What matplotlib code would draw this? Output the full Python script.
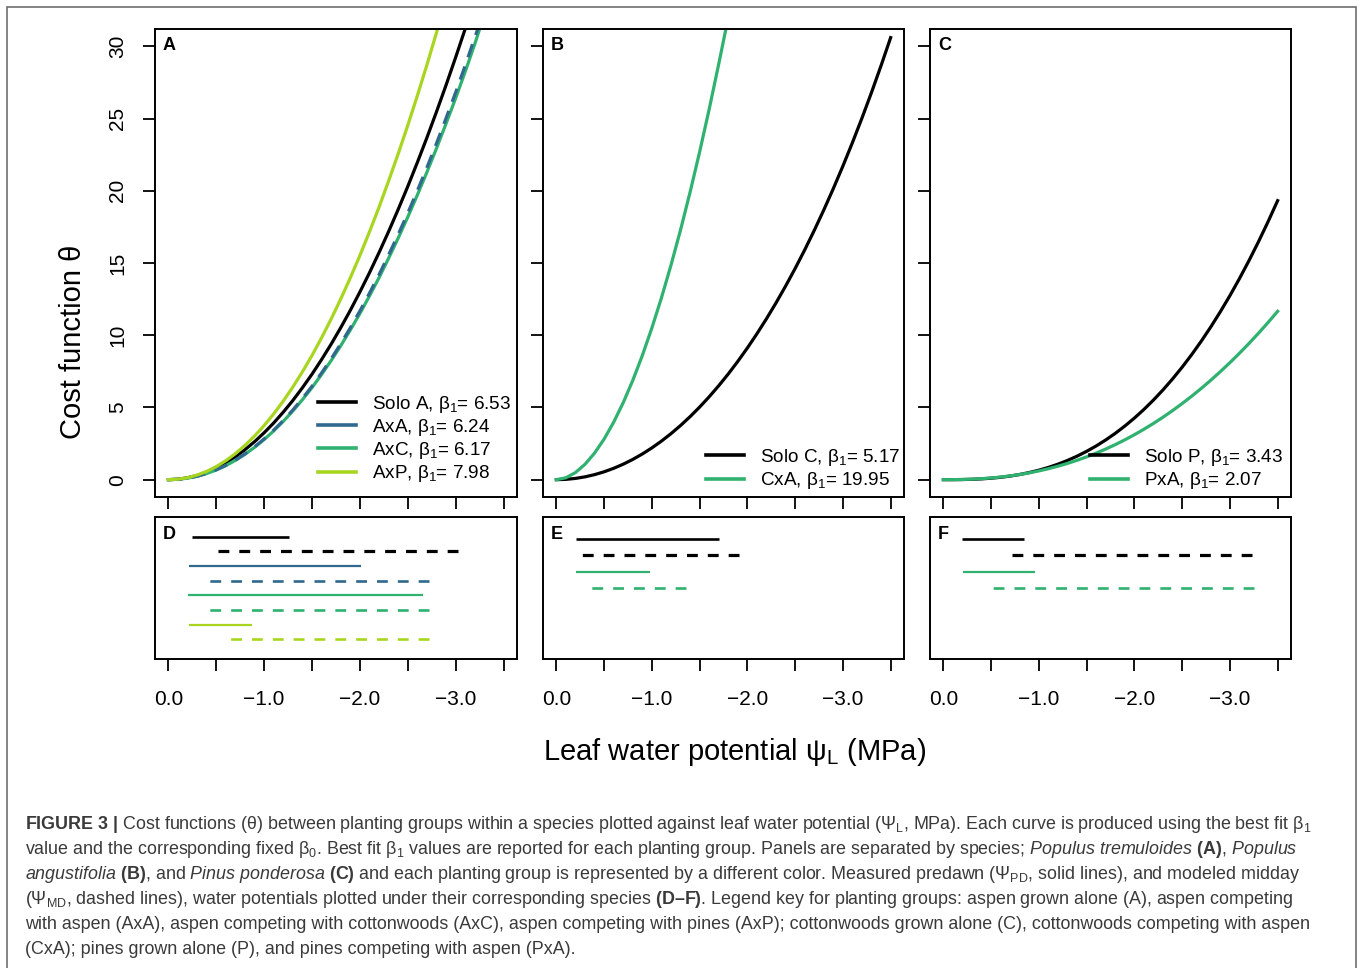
import matplotlib
matplotlib.use("Agg")
import matplotlib.pyplot as plt
from matplotlib.lines import Line2D
from matplotlib.patches import Rectangle

plt.rcParams['font.family'] = ['Liberation Sans', 'DejaVu Sans']
plt.rcParams['mathtext.fontset'] = 'custom'
plt.rcParams['mathtext.rm'] = 'Liberation Sans'
plt.rcParams['mathtext.it'] = 'Liberation Sans:italic'
plt.rcParams['mathtext.bf'] = 'Liberation Sans:bold'
plt.rcParams['lines.scale_dashes'] = False

# ---- cost curves, every 0.1 MPa from 0 down to -3.5
PSI = [round(-0.1 * i, 1) for i in range(36)]

# panel A (aspen); curves that leave the top of the panel end at their exit point
SOLO_A = [0, 0.03, 0.13, 0.29, 0.52, 0.81, 1.17, 1.59, 2.08, 2.63, 3.25, 3.93, 4.68, 5.49,
          6.37, 7.31, 8.32, 9.39, 10.53, 11.73, 13.0, 14.33, 15.73, 17.19, 18.72, 20.31,
          21.97, 23.69, 25.48, 27.33, 29.25, 31.23]
AXA = [0, 0.025, 0.105, 0.24, 0.431, 0.681, 0.991, 1.358, 1.786, 2.274, 2.822, 3.432, 4.1,
       4.83, 5.624, 6.476, 7.397, 8.375, 9.416, 10.523, 11.682, 12.917, 14.203, 15.569,
       16.984, 18.464, 20.01, 21.62, 23.29, 25.04, 26.82, 28.69, 30.63, 31.2]
AXA_EXIT = -3.23
AXC = [0, 0.025, 0.103, 0.236, 0.425, 0.671, 0.976, 1.338, 1.76, 2.24, 2.78, 3.381, 4.039,
       4.759, 5.541, 6.38, 7.288, 8.251, 9.277, 10.367, 11.509, 12.726, 13.993, 15.339,
       16.733, 18.191, 19.714, 21.3, 22.95, 24.665, 26.421, 28.265, 30.176, 31.2]
AXC_EXIT = -3.25
AXP = [0, 0.033, 0.138, 0.318, 0.573, 0.906, 1.316, 1.804, 2.374, 3.022, 3.75, 4.56, 5.448,
       6.42, 7.475, 8.606, 9.83, 11.13, 12.514, 13.984, 15.525, 17.166, 18.876, 20.691,
       22.572, 24.539, 26.593, 28.732, 30.959, 31.2]
AXP_EXIT = -2.81

# panel B (cottonwood)
SOLO_C = [0, 0.022, 0.087, 0.196, 0.348, 0.545, 0.786, 1.071, 1.402, 1.778, 2.2, 2.669, 3.185,
          3.749, 4.362, 5.025, 5.738, 6.503, 7.32, 8.192, 9.118, 10.101, 11.141, 12.24,
          13.399, 14.619, 15.904, 17.253, 18.669, 20.153, 21.708, 23.335, 25.035, 26.812,
          28.667, 30.602]
CXA = [0, 0.132, 0.493, 1.066, 1.841, 2.813, 3.978, 5.332, 6.872, 8.594, 10.5, 12.584,
       14.847, 17.287, 19.902, 22.688, 25.645, 28.774, 31.2]
CXA_EXIT = -1.775

# panel C (pine)
SOLO_P = [0, 0.0013, 0.0085, 0.0254, 0.0552, 0.101, 0.165, 0.25, 0.359, 0.494, 0.656, 0.848,
          1.073, 1.332, 1.627, 1.961, 2.334, 2.749, 3.207, 3.712, 4.263, 4.863, 5.514, 6.217,
          6.975, 7.787, 8.657, 9.585, 10.574, 11.625, 12.738, 13.917, 15.165, 16.479,
          17.862, 19.317]
PXA = [0, 0.0026, 0.0136, 0.0354, 0.0697, 0.118, 0.182, 0.261, 0.358, 0.473, 0.606, 0.759,
       0.932, 1.126, 1.341, 1.578, 1.837, 2.12, 2.426, 2.757, 3.111, 3.491, 3.896, 4.326,
       4.784, 5.268, 5.778, 6.317, 6.883, 7.477, 8.099, 8.751, 9.431, 10.142, 10.883, 11.655]

BETA_A = ['6.53', '6.24', '6.17', '7.98']
BETA_C = ['5.17', '19.95']
BETA_P = ['3.43', '2.07']

# ---- predawn (solid) and midday (dashed) ranges, (start, end) in MPa
D_PD = [(-0.25, -1.26), (-0.21, -2.01), (-0.20, -2.66), (-0.22, -0.87)]
D_MD = [(-0.44, -3.02), (-0.36, -2.72), (-0.36, -2.72), (-0.62, -2.72)]
E_PD = [(-0.21, -1.70), (-0.21, -0.98)]
E_MD = [(-0.23, -1.91), (-0.355, -1.36)]
F_PD = [(-0.20, -0.84), (-0.21, -0.96)]
F_MD = [(-0.71, -3.23), (-0.48, -3.25)]

BLACK = '#000000'
BLUE = '#31688e'
GREEN = '#2fb170'
LIME = '#a8d620'
COLS_A = [BLACK, BLUE, GREEN, LIME]
COLS_2 = [BLACK, GREEN]

W, H = 1360, 968
fig = plt.figure(figsize=(W / 100, H / 100), dpi=100)

def box(x0, y0, x1, y1):
    return [x0 / W, 1 - y1 / H, (x1 - x0) / W, (y1 - y0) / H]

axA = fig.add_axes(box(155, 29, 517, 497))
axB = fig.add_axes(box(543, 29, 904, 497))
axC = fig.add_axes(box(930, 29, 1291, 497))
axD = fig.add_axes(box(155, 517, 517, 659))
axE = fig.add_axes(box(543, 517, 904, 659))
axF = fig.add_axes(box(930, 517, 1291, 659))

xt = [0, -0.5, -1.0, -1.5, -2.0, -2.5, -3.0, -3.5]
xtl = ['0.0', '', '\u22121.0', '', '\u22122.0', '', '\u22123.0', '']

for ax in [axA, axB, axC, axD, axE, axF]:
    ax.set_xlim(0.14, -3.64)
    ax.set_xticks(xt)
    for s in ax.spines.values():
        s.set_linewidth(1.4)
    ax.tick_params(direction='out', length=8.8, width=1.3, labelsize=15, pad=13.5)

for ax in [axA, axB, axC]:
    ax.set_ylim(-1.2, 31.2)
    ax.set_yticks([0, 5, 10, 15, 20, 25, 30])
    ax.set_xticklabels([])
    if ax is not axA:
        ax.set_yticklabels([])

axA.tick_params(axis='y', labelrotation=90, pad=11)
for lab in axA.get_yticklabels():
    lab.set_va('center')

for ax in [axD, axE, axF]:
    ax.set_xticklabels(xtl)
    ax.set_yticks([])
axD.set_ylim(-0.36, 9.36)
axE.set_ylim(0.68, 9.32)
axF.set_ylim(0.68, 9.32)

LW = 2.3
# panel A
axA.plot(PSI[:len(SOLO_A)], SOLO_A, color=BLACK, lw=LW)
axA.plot(PSI[:len(AXC) - 1] + [AXC_EXIT], AXC, color=GREEN, lw=LW)
axA.plot(PSI[:len(AXA) - 1] + [AXA_EXIT], AXA, color=BLUE, lw=LW, dashes=(10, 7))
axA.plot(PSI[:len(AXP) - 1] + [AXP_EXIT], AXP, color=LIME, lw=LW)
# panel B
axB.plot(PSI, SOLO_C, color=BLACK, lw=LW)
axB.plot(PSI[:len(CXA) - 1] + [CXA_EXIT], CXA, color=GREEN, lw=LW)
# panel C
axC.plot(PSI, SOLO_P, color=BLACK, lw=LW)
axC.plot(PSI, PXA, color=GREEN, lw=LW)

def add_legend(ax, names, betas, cols, dx, dy):
    # dx, dy: pixel offset of the legend's lower right corner from the axes corner
    bb = ax.get_position()
    handles = [Line2D([], [], color=c, lw=2.6) for c in cols]
    labels = ['%s, \u03b2$_1$= %s' % (n, b) for n, b in zip(names, betas)]
    ax.legend(handles, labels, loc='lower right',
              bbox_to_anchor=(1 - dx / (bb.width * W), dy / (bb.height * H)),
              frameon=False, fontsize=13.6, handlelength=2.0, handletextpad=0.85,
              labelspacing=0.12, borderaxespad=0, borderpad=0)

add_legend(axA, ['Solo A', 'AxA', 'AxC', 'AxP'], BETA_A, COLS_A, 6, 12.7)
add_legend(axB, ['Solo C', 'CxA'], BETA_C, COLS_2, 4, 5.7)
add_legend(axC, ['Solo P', 'PxA'], BETA_P, COLS_2, 8, 5.7)

def ranges(ax, pd, md, cols):
    for i, (p, m, c) in enumerate(zip(pd, md, cols)):
        row = 8 - 2 * i
        solid_lw = 1.9 if c == BLACK else 1.6
        dash_lw = 2.3 if c == BLACK else 1.9
        ax.plot(list(p), [row, row], color=c, lw=solid_lw, solid_capstyle='butt')
        # midday range drawn from its far end, as in the original
        ax.plot([m[1], m[0]], [row - 1, row - 1], color=c, lw=dash_lw,
                dashes=(7.8, 7.2), dash_capstyle='butt')

ranges(axD, D_PD, D_MD, COLS_A)
ranges(axE, E_PD, E_MD, COLS_2)
ranges(axF, F_PD, F_MD, COLS_2)

for ax, letter in zip([axA, axB, axC], 'ABC'):
    ax.text(0.022, 0.982, letter, transform=ax.transAxes, ha='left', va='top',
            fontsize=13, fontweight='bold')
for ax, letter in zip([axD, axE, axF], 'DEF'):
    ax.text(0.022, 0.94, letter, transform=ax.transAxes, ha='left', va='top',
            fontsize=13, fontweight='bold')

fig.text(73 / W, 1 - 342 / H, 'Cost function \u03b8', rotation=90, ha='center', va='center', fontsize=21)
fig.text(735 / W, 1 - 752 / H, 'Leaf water potential \u03c8$_\\mathrm{L}$ (MPa)', ha='center', va='center', fontsize=21)

CAPTION = [
    r'$\mathbf{FIGURE\ 3\ |}$ Cost functions (θ) between planting groups within a species plotted against leaf water potential (Ψ$_\mathrm{L}$, MPa). Each curve is produced using the best fit β$_1$',
    r'value and the corresponding fixed β$_0$. Best fit β$_1$ values are reported for each planting group. Panels are separated by species; $\mathit{Populus\ tremuloides}$ $\mathbf{(A)}$, $\mathit{Populus}$',
    r'$\mathit{angustifolia}$ $\mathbf{(B)}$, and $\mathit{Pinus\ ponderosa}$ $\mathbf{(C)}$ and each planting group is represented by a different color. Measured predawn (Ψ$_\mathrm{PD}$, solid lines), and modeled midday',
    r'(Ψ$_\mathrm{MD}$, dashed lines), water potentials plotted under their corresponding species $\mathbf{(D–F)}$. Legend key for planting groups: aspen grown alone (A), aspen competing',
    r'with aspen (AxA), aspen competing with cottonwoods (AxC), aspen competing with pines (AxP); cottonwoods grown alone (C), cottonwoods competing with aspen',
    r'(CxA); pines grown alone (P), and pines competing with aspen (PxA).',
]
for i, line in enumerate(CAPTION):
    fig.text(25 / W, 1 - (829 + 25 * i) / H, line, ha='left', va='baseline',
             fontsize=12.85, color='#3a3a3a')

fig.patches.append(Rectangle((7 / W, -0.05), (1356 - 7) / W, 1.05 - 7 / H,
                             transform=fig.transFigure, fill=False,
                             ec='#6e6e6e', lw=1.2))

fig.savefig('out.png', dpi=100)
